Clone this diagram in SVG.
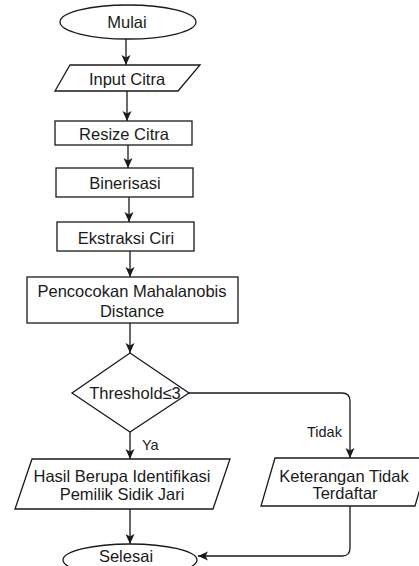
<svg xmlns="http://www.w3.org/2000/svg" width="419" height="566" viewBox="0 0 419 566">
<defs>
<style>
.s{fill:#fff;stroke:#1a1a1a;stroke-width:1.3}
.t{font-family:"Liberation Sans",Arial,sans-serif;font-size:16.5px;fill:#1a1a1a;text-anchor:middle}
.l{font-family:"Liberation Sans",Arial,sans-serif;font-size:14.5px;fill:#1a1a1a}
.c{fill:none;stroke:#1a1a1a;stroke-width:1.3}
</style>
<marker id="a" markerUnits="userSpaceOnUse" markerWidth="12" markerHeight="10" refX="10" refY="4.5" orient="auto">
<path d="M0,0 L10,4.5 L0,9 L2.5,4.5 Z" fill="#1a1a1a"/>
</marker>
</defs>
<rect width="419" height="566" fill="#fff"/>
<g id="connectors">
<path class="c" d="M126,39 V65" marker-end="url(#a)"/>
<path class="c" d="M127,91 V121" marker-end="url(#a)"/>
<path class="c" d="M128,145 V168" marker-end="url(#a)"/>
<path class="c" d="M129,197 V222" marker-end="url(#a)"/>
<path class="c" d="M130,251 V277" marker-end="url(#a)"/>
<path class="c" d="M130,323 V353" marker-end="url(#a)"/>
<path class="c" d="M130,432 V459" marker-end="url(#a)"/>
<path class="c" d="M189,393 H342 Q350,393 350,401 V458" marker-end="url(#a)"/>
<path class="c" d="M130,509 V544" marker-end="url(#a)"/>
<path class="c" d="M350,506 V548 Q350,556 342,556 H198" marker-end="url(#a)"/>
<text class="l" x="142" y="450">Ya</text>
<text class="l" x="307" y="437">Tidak</text>
</g>
<g id="mulai">
<ellipse class="s" cx="128" cy="22" rx="68" ry="17"/>
<text class="t" x="127" y="28">Mulai</text>
</g>
<g id="input">
<polygon class="s" points="70,65 200,65 178,91 55,91"/>
<text class="t" x="127" y="85">Input Citra</text>
</g>
<g id="resize">
<rect class="s" x="55" y="121" width="137" height="24"/>
<text class="t" x="124" y="140">Resize Citra</text>
</g>
<g id="biner">
<rect class="s" x="56" y="168" width="137" height="29"/>
<text class="t" x="125" y="189">Binerisasi</text>
</g>
<g id="ekstraksi">
<rect class="s" x="57" y="222" width="137" height="29"/>
<text class="t" x="126" y="244">Ekstraksi Ciri</text>
</g>
<g id="pencocokan">
<rect class="s" x="27" y="277" width="211" height="46"/>
<text class="t" x="132" y="297">Pencocokan Mahalanobis</text>
<text class="t" x="132" y="317">Distance</text>
</g>
<g id="threshold">
<polygon class="s" points="130,353 189,393 130,432 72,393"/>
<text class="t" x="135" y="399">Threshold≤3</text>
</g>
<g id="hasil">
<polygon class="s" points="32,459 230,459 213,509 15,509"/>
<text class="t" x="122" y="482">Hasil Berupa Identifikasi</text>
<text class="t" x="122" y="500">Pemilik Sidik Jari</text>
</g>
<g id="keterangan">
<polygon class="s" points="275,458 429,458 415,506 261,506"/>
<text class="t" x="344" y="482">Keterangan Tidak</text>
<text class="t" x="345" y="499">Terdaftar</text>
</g>
<g id="selesai">
<ellipse class="s" cx="130" cy="560" rx="67" ry="16"/>
<text class="t" x="126" y="562">Selesai</text>
</g>
</svg>
